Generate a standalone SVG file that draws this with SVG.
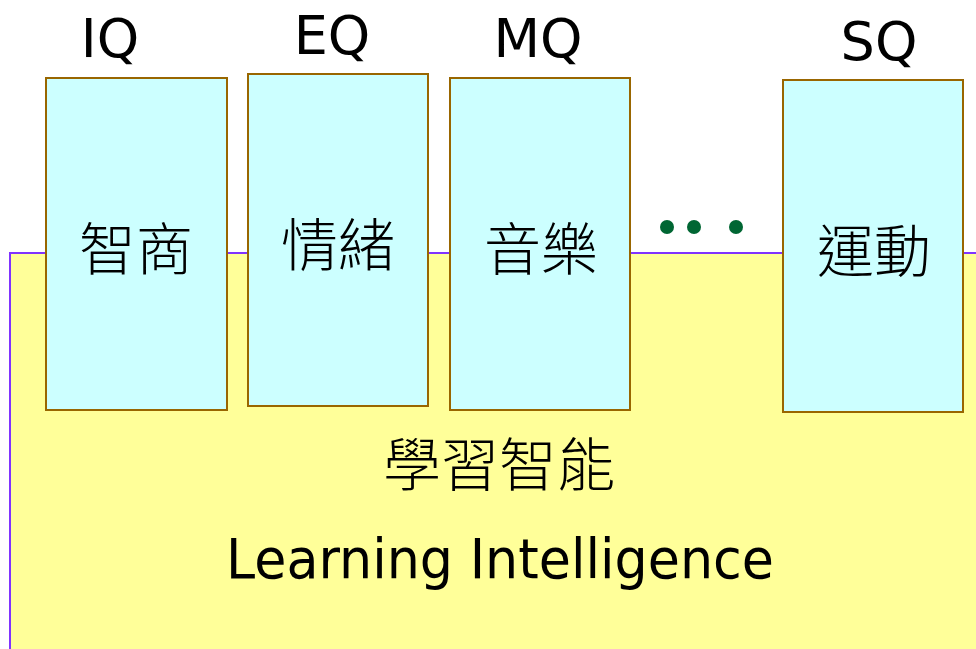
<svg xmlns="http://www.w3.org/2000/svg" width="976" height="649" viewBox="0 0 976 649">
<style>
.lbl{font-family:"DejaVu Sans","Liberation Sans",sans-serif;font-size:54px;fill:#000;text-anchor:middle}
.box{fill:#CCFFFF;stroke:#996600;stroke-width:2}
.cjk{font-family:"Noto Sans CJK TC","Noto Sans CJK SC",sans-serif;font-size:57px;fill:#000;text-anchor:middle;font-weight:300}
.dot{fill:#006633}
</style>
<rect width="976" height="649" fill="#FFFFFF"/>
<g id="base">
<rect x="10" y="253" width="980" height="420" fill="#FFFF99" stroke="#8033FF" stroke-width="2"/>
<text class="cjk" x="499" y="486" style="font-size:58px">學習智能</text>
<text x="500" y="578" font-family="DejaVu Sans,Liberation Sans,sans-serif" font-size="56" text-anchor="middle" textLength="548" lengthAdjust="spacingAndGlyphs">Learning Intelligence</text>
</g>
<g id="iq">
<text class="lbl" x="110" y="57">IQ</text>
<rect class="box" x="46" y="78" width="181" height="332"/>
<text class="cjk" x="136" y="270">智商</text>
</g>
<g id="eq">
<text class="lbl" x="332" y="54">EQ</text>
<rect class="box" x="248" y="74" width="180" height="332"/>
<text class="cjk" x="338" y="266">情緒</text>
</g>
<g id="mq">
<text class="lbl" x="538" y="57">MQ</text>
<rect class="box" x="450" y="78" width="180" height="332"/>
<text class="cjk" x="541" y="270">音樂</text>
</g>
<g id="dots">
<circle class="dot" cx="667" cy="227" r="7"/>
<circle class="dot" cx="694" cy="227" r="7"/>
<circle class="dot" cx="736" cy="227" r="7"/>
</g>
<g id="sq">
<text class="lbl" x="879" y="60">SQ</text>
<rect class="box" x="783" y="80" width="180" height="332"/>
<text class="cjk" x="874" y="272">運動</text>
</g>
<g id="connectors"></g>
</svg>
